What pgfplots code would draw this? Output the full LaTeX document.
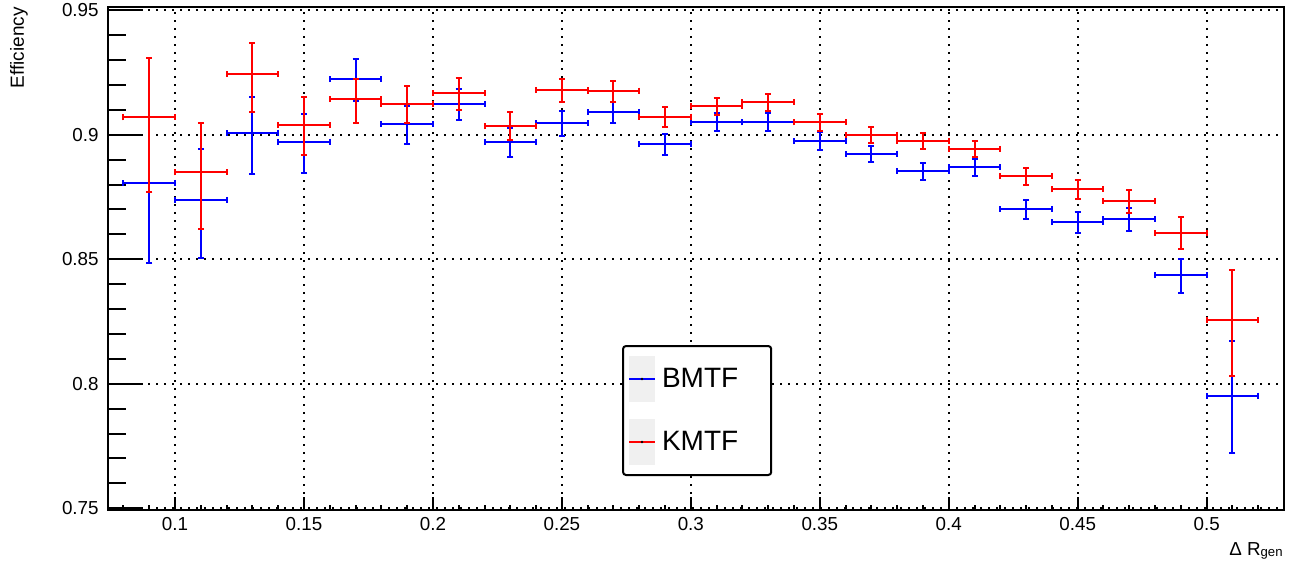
\documentclass[border=0pt]{standalone}
\usepackage{pgfplots}
\pgfplotsset{compat=1.18}
\usepackage{pgfplotstable}
\usepackage{fontspec}
\setmainfont{Liberation Sans}

% efficiency per Delta R bin: value, upper and lower uncertainty
\pgfplotstableread{
x     y      ep     em
0.09  0.8807 0.0266 0.0323
0.11  0.8738 0.0205 0.0232
0.13  0.9008 0.0145 0.0164
0.15  0.8972 0.0113 0.0124
0.17  0.9223 0.0081 0.0086
0.19  0.9043 0.0074 0.0079
0.21  0.9122 0.0063 0.0063
0.23  0.8972 0.0056 0.0060
0.25  0.9047 0.0050 0.0051
0.27  0.9092 0.0041 0.0045
0.29  0.8962 0.0041 0.0042
0.31  0.9050 0.0036 0.0037
0.33  0.9050 0.0036 0.0035
0.35  0.8974 0.0036 0.0035
0.37  0.8924 0.0031 0.0034
0.39  0.8855 0.0033 0.0035
0.41  0.8869 0.0034 0.0033
0.43  0.8702 0.0037 0.0039
0.45  0.8649 0.0041 0.0043
0.47  0.8662 0.0045 0.0048
0.49  0.8436 0.0065 0.0070
0.51  0.7952 0.0219 0.0231
}\bmtf

\pgfplotstableread{
x     y      ep     em
0.09  0.9070 0.0237 0.0298
0.11  0.8849 0.0197 0.0227
0.13  0.9243 0.0127 0.0150
0.15  0.9039 0.0112 0.0119
0.17  0.9143 0.0082 0.0094
0.19  0.9125 0.0071 0.0077
0.21  0.9167 0.0060 0.0067
0.23  0.9034 0.0056 0.0056
0.25  0.9179 0.0046 0.0048
0.27  0.9177 0.0040 0.0044
0.29  0.9073 0.0039 0.0040
0.31  0.9114 0.0035 0.0036
0.33  0.9131 0.0033 0.0035
0.35  0.9050 0.0032 0.0034
0.37  0.9000 0.0033 0.0034
0.39  0.8975 0.0031 0.0032
0.41  0.8943 0.0033 0.0033
0.43  0.8833 0.0035 0.0036
0.45  0.8781 0.0039 0.0040
0.47  0.8734 0.0046 0.0047
0.49  0.8606 0.0065 0.0066
0.51  0.8255 0.0202 0.0222
}\kmtf

\pgfplotsset{
  rootframe/.style={
    width=588bp, height=251.5bp, scale only axis,
    xmin=0.074, xmax=0.530, ymin=0.7493, ymax=0.9513,
    at={(0,0)}, anchor=south west,
    axis line style={line width=1.2bp, black},
    tick align=inside,
    tick style={line width=1bp, black},
    major grid style={black, line width=1bp, dash pattern=on 1bp off 3bp},
    tick label style={font=\fontsize{9.4bp}{11bp}\selectfont},
    /pgf/number format/assume math mode=true,
    scaled ticks=false,
  },
  efficiency/.style={
    draw=none, mark=none,
    legend image code/.code={
      \fill[black!6, sharp corners] (0bp,-11.5bp) rectangle (13bp,11.5bp);
      \draw[#1, line width=1bp] (0bp,0bp) -- (13bp,0bp);
      \fill[black] (6.5bp,0bp) circle[radius=0.7bp];
    },
    error bars/.cd,
      x dir=both, x fixed=0.01,
      y dir=both, y explicit,
      error bar style={line width=1bp, #1},
      error mark=-,
      error mark options={rotate=90, #1, mark size=1.5bp, line width=1bp},
    /pgfplots/.cd,
  },
}

\begin{document}
\begin{tikzpicture}
\useasboundingbox (-54bp,-26.5bp) rectangle (592.5bp,255bp);

% horizontal axis: short ticks, dotted grid, labels
\begin{axis}[rootframe,
  xtick={0.1,0.15,0.2,0.25,0.3,0.35,0.4,0.45,0.5},
  minor xtick={0.08,0.09,0.11,0.12,0.13,0.14,0.16,0.17,0.18,0.19,0.21,0.22,0.23,0.24,0.26,0.27,0.28,0.29,0.31,0.32,0.33,0.34,0.36,0.37,0.38,0.39,0.41,0.42,0.43,0.44,0.46,0.47,0.48,0.49,0.51,0.52},
  xmajorgrids,
  xtick pos=left,
  ytick=\empty,
  major tick length=6.5bp, minor tick length=2.5bp,
  xticklabel style={inner sep=0pt, anchor=north, yshift=-3.5bp},
  xlabel={Δ R\textsubscript{gen}},
  every axis x label/.style={at={(rel axis cs:1,0)}, anchor=base east, yshift=-22.5bp, inner sep=0pt, font=\fontsize{9.4bp}{11bp}\selectfont},
]
\end{axis}

% vertical axis, data and legend
\begin{axis}[rootframe,
  xtick=\empty,
  ytick={0.75,0.8,0.85,0.9,0.95},
  minor ytick={0.76,0.77,0.78,0.79,0.81,0.82,0.83,0.84,0.86,0.87,0.88,0.89,0.91,0.92,0.93,0.94},
  ymajorgrids,
  ytick pos=left,
  major tick length=17.5bp, minor tick length=9bp,
  yticklabel style={inner sep=0pt, anchor=east, xshift=-4.5bp},
  ylabel={Efficiency},
  every axis y label/.style={at={([xshift=-44.5bp]rel axis cs:0,1)}, rotate=90, anchor=east, inner sep=0pt, font=\fontsize{9.5bp}{11bp}\selectfont},
  legend cell align=left,
  legend style={at={(0.4371,0.328)}, anchor=north west, draw=black, line width=1bp,
    rounded corners=1.5bp, inner xsep=2.5bp, inner ysep=5bp, row sep=8.5bp, column sep=3bp,
    nodes={inner sep=0pt},
    font=\fontsize{14bp}{17bp}\selectfont},
]
\addplot[efficiency=blue] table[x=x, y=y, y error plus=ep, y error minus=em] {\bmtf};
\addlegendentry{BMTF\hspace*{14bp}}
\addplot[efficiency=red] table[x=x, y=y, y error plus=ep, y error minus=em] {\kmtf};
\addlegendentry{KMTF\hspace*{14bp}}
\end{axis}
\end{tikzpicture}
\end{document}
